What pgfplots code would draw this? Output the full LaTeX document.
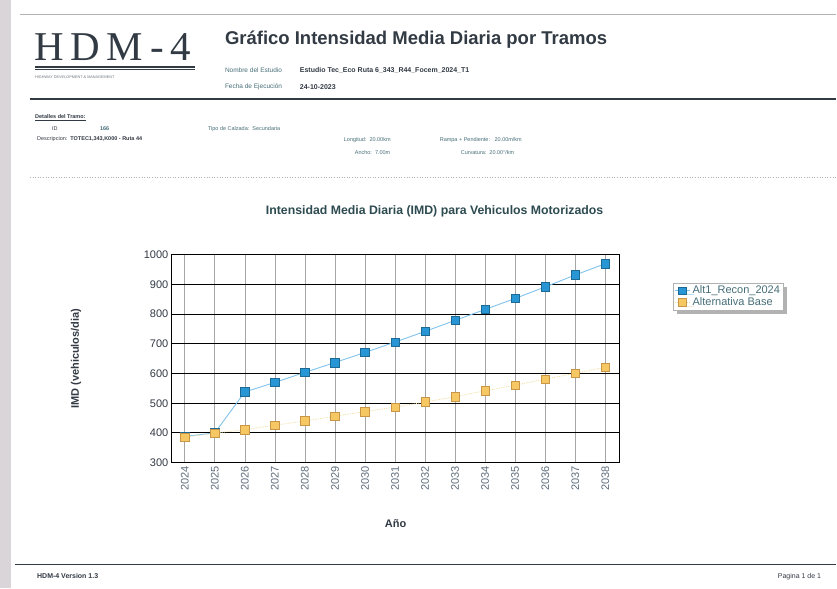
\documentclass[border=0pt]{standalone}
\usepackage{pgfplots}
\pgfplotsset{compat=1.18}
\usepackage{fontspec}
\setmainfont{Liberation Sans}
\newfontfamily\seriffont{Liberation Serif}
\usetikzlibrary{shadows}
\definecolor{bluemk}{RGB}{40,150,212}
\definecolor{blueln}{RGB}{130,195,235}
\definecolor{orgmk}{RGB}{246,200,100}
\definecolor{orgedge}{RGB}{200,150,70}
\definecolor{orgln}{RGB}{242,222,160}
\definecolor{txtdark}{RGB}{50,58,68}
\definecolor{txtteal}{RGB}{70,110,120}
\definecolor{ticktxt}{RGB}{95,110,125}
\definecolor{titletxt}{RGB}{45,75,80}
\begin{document}
\begin{tikzpicture}
\begin{scope}[x=1pt,y=-1pt]
\path[fill=white] (0,0) rectangle (837,589);
% scan strip
\fill[violet!10!gray!30] (0,0) rectangle (11,589);
% top border
\draw[gray!60, line width=1pt] (20,15) -- (837,15);
% logo
\node[anchor=west, font=\seriffont\fontsize{41}{41}\selectfont, text=txtdark, inner sep=0] at (34,47) {H\,D\,M\,-\,4};
\draw[txtdark, line width=1.2pt] (35,67) -- (195,67);
\draw[txtdark, line width=0.5pt] (35,69.5) -- (195,69.5);
\node[anchor=west, font=\fontsize{3.8}{4}\selectfont, text=txtdark!70, inner sep=0] at (35,77) {HIGHWAY DEVELOPMENT \& MANAGEMENT};
% header title
\node[anchor=west, font=\bfseries\fontsize{18.5}{20}\selectfont, text=txtdark, inner sep=0] at (225,40) {Gráfico Intensidad Media Diaria por Tramos};
\node[anchor=west, font=\fontsize{6.5}{7}\selectfont, text=txtteal, inner sep=0] at (225,70) {Nombre del Estudio};
\node[anchor=west, font=\bfseries\fontsize{7}{8}\selectfont, text=txtdark, inner sep=0] at (300,70) {Estudio Tec\_Eco Ruta 6\_343\_R44\_Focem\_2024\_T1};
\node[anchor=west, font=\fontsize{6.5}{7}\selectfont, text=txtteal, inner sep=0] at (225,87) {Fecha de Ejecución};
\node[anchor=west, font=\bfseries\fontsize{7}{8}\selectfont, text=txtdark, inner sep=0] at (300,87) {24-10-2023};
\draw[txtdark, line width=1.5pt] (30,99) -- (837,99);
% details
\node[anchor=west, font=\bfseries\fontsize{5.5}{6}\selectfont, text=txtdark, inner sep=0] at (35,118) {\underline{Detalles del Tramo:}};
\node[anchor=west, font=\fontsize{5.5}{6}\selectfont, text=txtdark, inner sep=0] at (52,129) {ID};
\node[anchor=west, font=\bfseries\fontsize{5.5}{6}\selectfont, text=txtteal, inner sep=0] at (100,129) {166};
\node[anchor=west, font=\fontsize{5.5}{6}\selectfont, text=txtteal, inner sep=0] at (208,129) {Tipo de Calzada:\ \ Secundaria};
\node[anchor=west, font=\fontsize{5.5}{6}\selectfont, text=txtdark, inner sep=0] at (37,139) {Descripcion:\ \ \textbf{TOTEC1,343,K000 - Ruta 44}};
\node[anchor=west, font=\fontsize{5.5}{6}\selectfont, text=txtteal, inner sep=0] at (344,140) {Longitud:\ \ 20.00km};
\node[anchor=west, font=\fontsize{5.5}{6}\selectfont, text=txtteal, inner sep=0] at (440,140) {Rampa + Pendiente:\ \ \ 20.00m/km};
\node[anchor=west, font=\fontsize{5.5}{6}\selectfont, text=txtteal, inner sep=0] at (355,153) {Ancho:\ \ 7.00m};
\node[anchor=west, font=\fontsize{5.5}{6}\selectfont, text=txtteal, inner sep=0] at (461,153) {Curvatura:\ \ 20.00°/km};
\draw[gray!60, line width=0.6pt, dotted] (30,177) -- (837,177);
% chart title
\node[font=\bfseries\fontsize{12.3}{13}\selectfont, text=titletxt] at (435,212) {Intensidad Media Diaria (IMD) para Vehiculos Motorizados};
% footer
\draw[txtdark, line width=1.2pt] (15,565) -- (837,565);
\node[anchor=west, font=\bfseries\fontsize{7}{8}\selectfont, text=txtdark, inner sep=0] at (37,577) {HDM-4 Version 1.3};
\node[anchor=east, font=\fontsize{7}{8}\selectfont, text=txtdark, inner sep=0] at (822,577) {Pagina 1 de 1};
\end{scope}
\begin{axis}[
  at={(172pt,-463pt)}, anchor=south west,
  width=448pt, height=208pt, scale only axis,
  xmin=2023.57, xmax=2038.47,
  ymin=300, ymax=1000,
  xtick={2024,2025,...,2038},
  ytick={300,400,...,1000},
  xticklabel style={rotate=90, anchor=east, font=\fontsize{11}{12}\selectfont, text=ticktxt},
  yticklabel style={font=\fontsize{11}{12}\selectfont, text=txtdark},
  /pgf/number format/1000 sep={},
  /pgf/number format/assume math mode=true,
  major tick length=0pt,
  xmajorgrids, ymajorgrids,
  x grid style={gray!70, line width=0.6pt},
  y grid style={black, line width=1pt},
  axis line style={black, line width=1.2pt},
  xlabel={\bfseries Año}, ylabel={\bfseries IMD (vehiculos/dia)},
  label style={font=\fontsize{11}{12}\selectfont, text=txtdark},
  xlabel style={yshift=-22pt},
  ylabel style={yshift=56pt},
  legend style={at={(1.12,0.865)}, anchor=north west, font=\fontsize{11}{12}\selectfont, text=txtteal, draw=gray!60, fill=white, inner sep=1pt, row sep=-2pt, cells={anchor=west}, drop shadow={shadow xshift=4pt, shadow yshift=-4pt, fill=gray!80!black}},
  legend image post style={scale=0.9},
]
\addplot[blueln, line width=0.9pt, mark=square*, mark size=4.3pt, mark options={fill=bluemk, draw=bluemk!70!black, line width=0.5pt, solid}] coordinates {
(2024,388) (2025,400) (2026,538) (2027,570) (2028,604) (2029,637) (2030,671) (2031,706) (2032,742) (2033,779) (2034,816) (2035,853) (2036,892) (2037,932) (2038,970)};
\addlegendentry{Alt1\_Recon\_2024}
\addplot[orgln, line width=0.8pt, densely dotted, mark=square*, mark size=4.3pt, mark options={fill=orgmk, draw=orgedge, line width=0.5pt, solid}] coordinates {
(2024,386) (2025,399) (2026,411) (2027,426) (2028,440) (2029,456) (2030,472) (2031,487) (2032,504) (2033,522) (2034,542) (2035,561) (2036,581) (2037,601) (2038,621)};
\addlegendentry{Alternativa Base}
\end{axis}
\end{tikzpicture}
\end{document}
